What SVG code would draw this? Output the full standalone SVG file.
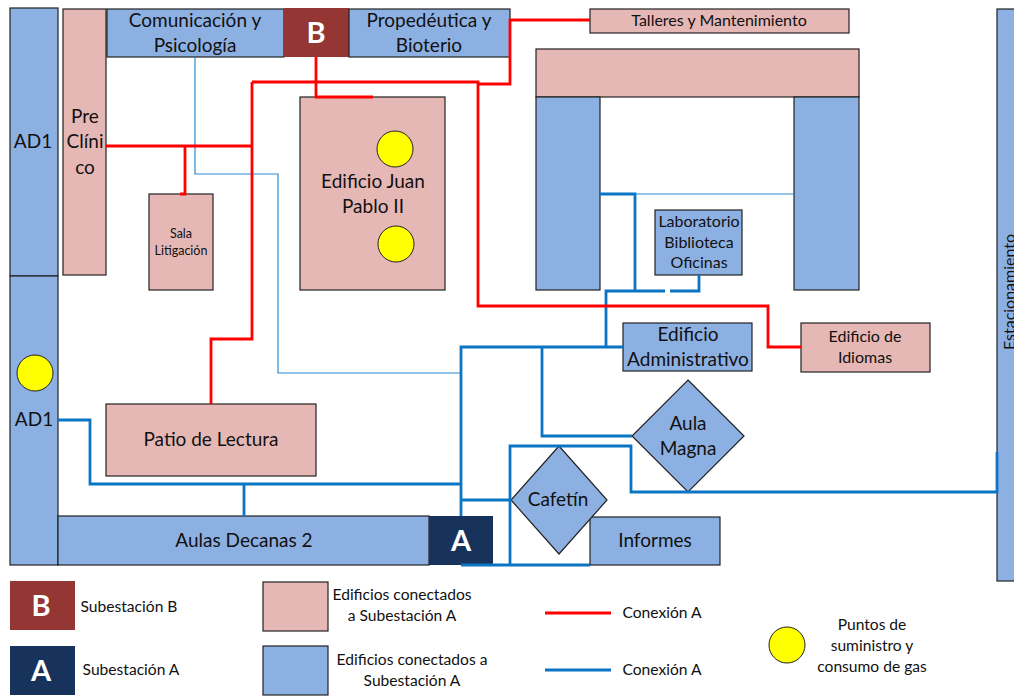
<svg xmlns="http://www.w3.org/2000/svg" width="1014" height="698" viewBox="0 0 1014 698">
<style>
text{font-family:"Lato","Open Sans","Liberation Sans",sans-serif;fill:#111;text-anchor:middle}
.p{fill:#e6b8b5;stroke:#222;stroke-width:1.2}
.b{fill:#8db0e3;stroke:#222;stroke-width:1.2}
.y{fill:#ffff00;stroke:#222;stroke-width:1}
.r{fill:none;stroke:#ff0000;stroke-width:2.8}
.c{fill:none;stroke:#0a75c5;stroke-width:2.8}
.t{fill:none;stroke:#2a8ad4;stroke-width:1.2}
.s{fill:#fff;font-weight:700;font-size:29px}
.f17{font-size:19px}.f14{font-size:16px}.f12{font-size:12.5px}.f13{font-size:15.6px}
</style>
<g id="ad1-top"><rect class="b" x="10" y="8" width="48" height="268"/><text class="f17" x="33" y="148">AD1</text></g>
<g id="ad1-bottom"><rect class="b" x="10" y="276" width="48" height="289"/><circle class="y" cx="35" cy="373" r="18"/><text class="f17" x="34" y="426">AD1</text></g>
<g id="preclinico"><rect class="p" x="63" y="9" width="43" height="266"/><text class="f17" x="85" y="123">Pre</text><text class="f17" x="85" y="148">Clíni</text><text class="f17" x="85" y="174">co</text></g>
<g id="comunicacion"><rect class="b" x="107" y="9" width="177" height="48"/><text class="f17" x="195" y="27">Comunicación y</text><text class="f17" x="195" y="52">Psicología</text></g>
<g id="subestacion-b"><rect x="284" y="8" width="65" height="49" fill="#943634"/><text class="s" x="316" y="43">B</text></g>
<g id="propedeutica"><rect class="b" x="349" y="9" width="161" height="48"/><text class="f17" x="429" y="27">Propedéutica y</text><text class="f17" x="429" y="52">Bioterio</text></g>
<g id="talleres"><rect class="p" x="590" y="9" width="259" height="24"/><text class="f14" x="719" y="26">Talleres y Mantenimiento</text></g>
<g id="top-block"><rect class="p" x="536" y="49" width="323" height="48"/></g>
<g id="left-block"><rect class="b" x="536" y="97" width="64" height="193"/></g>
<g id="right-block"><rect class="b" x="794" y="97" width="65" height="193"/></g>
<g id="laboratorio"><rect class="b" x="655" y="210" width="87" height="65"/><text class="f14" x="699" y="227">Laboratorio</text><text class="f14" x="699" y="248">Biblioteca</text><text class="f14" x="699" y="268">Oficinas</text></g>
<g id="estacionamiento"><rect class="b" x="997" y="9" width="20" height="572"/><text class="f14" transform="translate(1015 292) rotate(-90)">Estacionamiento</text></g>
<g id="juan-pablo"><rect class="p" x="300" y="97" width="145" height="193"/><circle class="y" cx="395" cy="149" r="18"/><circle class="y" cx="396" cy="244" r="18"/><text class="f17" x="373" y="188">Edificio Juan</text><text class="f17" x="373" y="213">Pablo II</text></g>
<g id="sala"><rect class="p" x="149" y="194" width="64" height="96"/><text class="f12" x="181" y="238">Sala</text><text class="f12" x="181" y="255">Litigación</text></g>
<g id="patio"><rect class="p" x="106" y="404" width="210" height="72"/><text class="f17" x="211" y="446">Patio de Lectura</text></g>
<g id="aulas"><rect class="b" x="58" y="516" width="371" height="49"/><text class="f17" x="244" y="547">Aulas Decanas 2</text></g>
<g id="subestacion-a"><rect x="429" y="516" width="64" height="49" fill="#17335c"/><text class="s" x="461" y="551">A</text></g>
<g id="administrativo"><rect class="b" x="623" y="323" width="129" height="48"/><text class="f17" x="688" y="341">Edificio</text><text class="f17" x="688" y="366">Administrativo</text></g>
<g id="idiomas"><rect class="p" x="801" y="323" width="129" height="49"/><text class="f14" x="865" y="342">Edificio de</text><text class="f14" x="865" y="363">Idiomas</text></g>
<g id="aula-magna"><polygon class="b" points="688,380 744,436 688,492 632,436"/><text class="f17" x="688" y="430">Aula</text><text class="f17" x="688" y="455">Magna</text></g>
<g id="informes"><rect class="b" x="590" y="517" width="130" height="48"/><text class="f17" x="655" y="547">Informes</text></g>
<g id="cafetin"><polygon class="b" points="559,446 607,500 559,554 511,500"/><text class="f17" x="558" y="506">Cafetín</text></g>
<g id="connectors">
<path class="t" d="M195 57V174H278V373H461"/>
<path class="t" d="M635 194H794"/>
<path class="c" d="M461 516V347H623M606 347V291H665M670 291H699V275M635 291V194H600M542 347V436H632M58 420H90V484H461M244 484V516M461 500H511M510 565V446H631V492H997V452M461 565H590"/>
<path class="r" d="M106 146H252M185 146V194H180M316 57V97H373M252 82H478V306H768V347H801M478 84H510V20H590M252 82V339H211V404"/>
</g>
<g id="legend">
<rect x="10" y="581" width="65" height="49" fill="#943634"/><text class="s" x="41" y="616">B</text>
<text class="f13" x="129" y="612">Subestación B</text>
<rect x="10" y="646" width="65" height="49" fill="#17335c"/><text class="s" x="41" y="681">A</text>
<text class="f13" x="131" y="675">Subestación A</text>
<rect class="p" x="263" y="582" width="65" height="49"/>
<text class="f13" x="402" y="600">Edificios conectados</text><text class="f13" x="402" y="621">a Subestación A</text>
<rect class="b" x="263" y="646" width="65" height="49"/>
<text class="f13" x="412" y="665">Edificios conectados a</text><text class="f13" x="412" y="686">Subestación A</text>
<path class="r" d="M545 613H611"/><text class="f13" x="662" y="618">Conexión A</text>
<path class="c" d="M545 670H611"/><text class="f13" x="662" y="675">Conexión A</text>
<circle class="y" cx="787" cy="645" r="18"/>
<text class="f13" x="872" y="630">Puntos de</text><text class="f13" x="872" y="651">suministro y</text><text class="f13" x="872" y="672">consumo de gas</text>
</g>
</svg>
